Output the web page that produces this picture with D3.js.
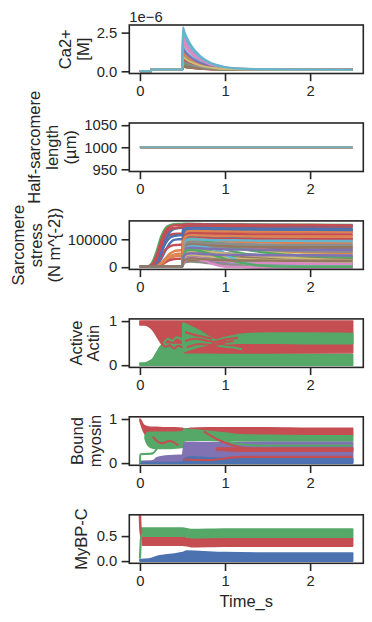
<!DOCTYPE html>
<html><head><meta charset="utf-8">
<script src="https://cdn.jsdelivr.net/npm/d3@7"></script>
<style>
body{margin:0;background:#fff}
svg{display:block}
text{font-family:"Liberation Sans",Arial,sans-serif;fill:#262626}
</style>
</head><body><svg id="c" width="372" height="622"></svg>
<script>
// ---------- palette (seaborn "deep") ----------
const palette = ["#4c72b0","#dd8452","#55a868","#c44e52","#8172b3","#937860","#da8bc3","#8c8c8c","#ccb974","#64b5cd"];
const xTickValues = [0, 1, 2];

// ---------- Panel 1: Ca2+ (units of 1e-6 M) ----------
const caTime = [0,0.13,0.135,0.5,0.505,0.525,0.555,0.605,0.655,0.705,0.805,0.905,1.0,1.2,1.5,2.5];
const caSeries = [
 [0,0,0.12,0.12,1.1,0.98,0.84,0.66,0.53,0.43,0.29,0.21,0.165,0.125,0.11,0.1],
 [0,0,0.12,0.12,0.9,0.80,0.69,0.55,0.44,0.36,0.25,0.19,0.15,0.12,0.11,0.1],
 [0,0,0.12,0.12,0.6,0.54,0.47,0.38,0.32,0.27,0.20,0.155,0.13,0.11,0.105,0.1],
 [0,0,0.12,0.12,0.7,0.63,0.54,0.44,0.36,0.30,0.21,0.17,0.14,0.115,0.105,0.1],
 [0,0,0.12,0.12,1.3,1.16,0.99,0.77,0.62,0.50,0.33,0.23,0.18,0.13,0.11,0.1],
 [0,0,0.12,0.12,0.45,0.41,0.36,0.30,0.25,0.22,0.17,0.14,0.12,0.11,0.105,0.1],
 [0,0,0.12,0.12,2.4,2.12,1.80,1.39,1.09,0.86,0.54,0.35,0.25,0.16,0.12,0.1],
 [0,0,0.12,0.12,0.5,0.45,0.40,0.32,0.27,0.23,0.18,0.145,0.125,0.11,0.105,0.1],
 [0,0,0.12,0.12,0.8,0.72,0.62,0.49,0.40,0.33,0.23,0.18,0.145,0.12,0.11,0.1],
 [0,0,0.12,0.12,2.85,2.52,2.135,1.64,1.28,1.01,0.62,0.40,0.28,0.17,0.13,0.1],
 [0,0,0.12,0.12,0.4,0.36,0.32,0.27,0.23,0.20,0.16,0.13,0.12,0.11,0.1,0.1],
 [0,0,0.12,0.12,0.35,0.32,0.285,0.24,0.21,0.18,0.15,0.13,0.115,0.105,0.1,0.1],
 [0,0,0.12,0.12,1.0,0.89,0.77,0.60,0.49,0.40,0.27,0.20,0.16,0.12,0.11,0.1],
 [0,0,0.12,0.12,0.3,0.28,0.25,0.21,0.19,0.17,0.14,0.12,0.115,0.105,0.1,0.1],
 [0,0,0.12,0.12,0.9,0.80,0.69,0.55,0.44,0.36,0.25,0.19,0.15,0.12,0.11,0.1],
 [0,0,0.12,0.12,0.3,0.28,0.25,0.21,0.19,0.17,0.14,0.12,0.115,0.105,0.1,0.1],
 [0,0,0.12,0.12,1.9,1.68,1.43,1.11,0.87,0.69,0.44,0.30,0.22,0.145,0.12,0.1],
 [0,0,0.12,0.12,0.6,0.54,0.47,0.38,0.32,0.27,0.20,0.155,0.13,0.11,0.105,0.1],
 [0,0,0.12,0.12,0.45,0.41,0.36,0.30,0.25,0.22,0.17,0.14,0.12,0.11,0.105,0.1],
 [0,0,0.12,0.12,1.6,1.42,1.21,0.94,0.75,0.60,0.39,0.27,0.20,0.14,0.115,0.1],
 [0,0,0.12,0.12,0.75,0.67,0.58,0.46,0.38,0.31,0.22,0.17,0.14,0.116,0.107,0.1],
 [0,0,0.12,0.12,1.2,1.07,0.91,0.72,0.57,0.46,0.31,0.22,0.17,0.13,0.11,0.1],
 [0,0,0.12,0.12,0.55,0.50,0.43,0.35,0.29,0.25,0.19,0.15,0.13,0.11,0.105,0.1],
 [0,0,0.12,0.12,0.85,0.76,0.66,0.52,0.42,0.35,0.24,0.18,0.15,0.12,0.11,0.1],
 [0,0,0.12,0.12,1.45,1.29,1.10,0.86,0.68,0.55,0.36,0.25,0.19,0.13,0.11,0.1],
 [0,0,0.12,0.12,0.38,0.35,0.31,0.26,0.22,0.19,0.15,0.13,0.12,0.107,0.103,0.1],
 [0,0,0.12,0.12,2.15,1.90,1.62,1.25,0.98,0.78,0.49,0.33,0.23,0.15,0.12,0.1],
 [0,0,0.12,0.12,0.65,0.58,0.51,0.41,0.34,0.28,0.20,0.16,0.14,0.114,0.106,0.1],
 [0,0,0.12,0.12,0.95,0.85,0.73,0.58,0.47,0.38,0.26,0.19,0.155,0.12,0.11,0.1],
 [0,0,0.12,0.12,2.6,2.30,1.95,1.50,1.18,0.93,0.58,0.38,0.26,0.16,0.125,0.1]
];
const caTicks = [0, 2.5];

// ---------- Panel 2: half-sarcomere length ----------
const hslTime = [0, 2.5];
const hslValues = [1000, 1000];
const hslTicks = [950, 1000, 1050];

// ---------- Panel 3: stress (values in units of 1000 N m^-2) ----------
const stressTime = [0,0.1,0.15,0.2,0.25,0.3,0.35,0.4,0.45,0.5,0.51,0.55,0.6,0.7,0.8,0.9,1.0,1.2,1.4,1.7,2.0,2.5];
const stressSeriesK = [
 [3,3,8,30,75,115,135,140,141,141,142,142,141,141,140,140,140,139,139,138,138,137],
 [3,3,3,3,3,3,3,3,3,3,100,118,120,119,118,118,117,116,116,115,115,114],
 [3,4,20,60,110,140,150,154,155,155,156,156,155,155,154,154,154,153,153,152,152,151],
 [3,3,12,45,95,130,145,150,151,151,152,152,151,151,150,150,150,149,149,149,148,148],
 [3,3,3,3,3,3,3,3,3,3,70,88,90,88,86,84,82,79,76,73,71,68],
 [3,3,3,3,3,3,3,3,3,3,80,98,100,97,93,89,85,78,72,67,63,58],
 [3,3,3,3,3,3,3,3,3,3,20,38,42,35,22,10,3,1,0,0,0,0],
 [3,3,3,3,3,3,3,3,3,3,40,58,60,56,50,45,40,33,28,24,21,18],
 [3,3,3,3,3,3,3,3,3,3,60,80,85,84,82,80,77,70,62,50,38,20],
 [3,3,3,3,3,3,3,3,3,3,60,78,80,78,74,65,50,22,8,3,2,2],
 [3,3,4,10,30,60,85,98,100,101,125,134,135,134,133,133,132,131,131,130,130,129],
 [3,3,3,6,15,32,48,57,60,61,95,108,110,109,108,107,107,106,106,105,105,104],
 [3,3,3,3,3,3,3,3,3,3,25,42,46,40,30,20,12,5,3,2,2,2],
 [3,3,6,25,65,100,115,119,120,121,140,145,146,146,146,145,145,145,145,144,144,144],
 [3,3,3,3,3,3,3,3,3,3,45,58,60,58,55,52,50,47,45,43,41,40],
 [3,3,3,3,3,3,3,3,3,3,55,73,75,74,73,72,72,71,71,70,70,70],
 [3,3,3,3,3,3,3,3,3,3,30,52,56,48,30,12,3,1,0,0,0,0],
 [3,3,3,3,3,3,3,3,3,3,20,28,30,27,24,21,19,16,14,12,11,10],
 [3,3,3,3,3,3,3,3,3,3,50,68,70,70,69,68,67,64,60,55,51,45],
 [3,3,3,3,3,3,3,3,3,3,75,93,95,94,93,93,92,92,91,91,90,90],
 [3,3,3,3,3,3,3,3,3,3,85,108,110,109,107,106,105,104,103,102,101,100],
 [3,3,3,4,8,18,30,38,40,41,80,93,95,92,88,84,80,72,65,58,54,50],
 [3,3,3,3,3,3,3,3,3,3,70,88,90,86,80,72,64,50,38,25,17,10],
 [3,3,4,15,40,62,74,79,80,81,115,124,125,125,125,125,125,125,125,125,125,125],
 [3,3,3,3,3,3,3,3,3,3,18,28,30,27,24,21,19,17,16,15,15,15],
 [3,3,3,3,3,3,3,3,3,3,38,48,50,48,45,42,40,37,35,33,31,30],
 [3,3,3,3,3,3,3,3,3,3,45,63,65,60,52,45,40,32,25,18,14,10],
 [3,3,3,3,3,3,3,3,3,3,12,19,20,18,15,12,10,8,7,6,5,5],
 [3,3,3,3,3,3,3,3,3,3,35,48,50,47,42,35,28,15,5,2,1,1],
 [3,3,3,3,3,3,3,3,3,3,65,83,85,84,83,82,82,81,81,80,80,80],
 [3,3,5,20,55,95,125,137,140,141,150,154,155,154,153,153,152,152,151,151,150,150],
 [3,3,3,3,3,3,3,3,3,3,110,128,130,130,129,129,129,128,128,128,128,127],
 [3,3,3,3,3,3,3,3,3,3,50,68,70,66,60,52,45,30,18,6,2,1],
 [3,3,3,5,10,18,25,29,30,31,85,103,105,104,103,102,102,101,101,100,100,100],
 [3,3,3,3,3,3,3,3,3,3,28,38,40,38,36,34,33,32,31,30,30,30],
 [3,3,3,3,3,3,3,3,3,3,15,23,25,26,27,28,29,31,32,33,34,35],
 [3,3,3,3,3,3,3,3,3,3,22,33,35,32,28,24,21,17,15,13,12,12],
 [3,3,3,3,3,3,3,3,3,3,60,78,80,78,75,72,70,66,62,59,57,55],
 [3,3,3,3,3,3,3,3,3,3,30,43,45,42,39,36,34,30,27,24,22,20],
 [3,3,3,3,3,3,3,3,3,3,55,72,75,74,70,60,45,18,6,3,2,2],
 [3,3,3,3,3,3,3,3,3,3,120,138,140,139,138,137,137,136,135,134,134,133],
 [3,3,3,5,12,25,38,45,48,49,90,100,102,100,98,96,94,91,89,87,86,85],
 [3,3,3,3,3,3,3,3,3,3,80,100,102,98,92,85,78,65,55,45,40,35],
 [3,3,3,3,3,3,3,3,3,3,100,118,120,120,119,119,118,118,117,117,117,117],
 [3,3,3,3,3,3,3,3,3,3,55,68,70,68,66,65,64,63,63,62,62,62],
 [3,3,3,3,3,3,3,3,3,3,65,83,85,83,80,78,76,74,73,72,72,72],
 [3,3,3,3,3,3,3,3,3,3,15,28,32,28,18,8,3,1,0,0,0,0],
 [3,3,3,3,3,3,3,3,3,3,70,88,90,88,86,85,84,82,81,80,80,80],
 [3,3,3,3,3,3,3,3,3,3,40,58,60,58,55,52,49,44,40,35,30,25],
 [3,3,3,3,3,3,3,3,3,3,80,98,100,99,98,97,97,96,95,95,94,94],
 [3,3,5,18,50,85,105,112,114,115,135,140,141,141,140,140,139,139,138,138,138,137],
 [3,3,3,3,3,3,3,3,3,3,95,112,115,114,113,112,112,111,110,110,110,110],
 [3,3,3,3,3,3,3,3,3,3,40,60,62,58,50,40,30,15,6,2,1,1],
 [3,3,8,35,80,118,135,140,142,143,150,153,154,153,153,152,152,152,151,151,151,150],
 [3,3,3,3,3,3,3,3,3,3,35,48,50,48,46,45,44,44,43,43,43,42],
 [3,3,3,3,3,3,3,3,3,3,20,30,32,30,28,26,25,24,24,23,23,23]
];
const stressTicks = [0, 100000];

// ---------- Panel 4: active actin, bands [time, low, high] ----------
const actinRed = [[0,0.91,1.0],[0.05,0.91,1.0],[0.1,0.88,1.0],[0.15,0.8,1.0],[0.2,0.65,1.0],[0.25,0.5,1.0],[0.3,0.42,1.0],[0.4,0.4,1.0],[0.5,0.4,1.0],[0.51,0.27,1.0],[1.0,0.27,1.0],[2.5,0.28,1.0]];
const actinGreenLow = [[0,0,0.05],[0.05,0,0.05],[0.1,0,0.08],[0.15,0,0.14],[0.2,0,0.3],[0.25,0,0.45],[0.3,0,0.48],[0.4,0,0.47],[0.5,0,0.46],[0.51,0,0.25],[1.0,0,0.24],[2.5,0,0.24]];
const actinGreenWedge = [[0.51,0.3,0.96],[0.6,0.36,0.88],[0.7,0.42,0.78],[0.8,0.46,0.66],[0.9,0.49,0.56],[0.95,0.5,0.52]];
const actinGreenMid = [[0.88,0.5,0.52],[0.95,0.49,0.56],[1.05,0.49,0.63],[1.15,0.5,0.69],[1.3,0.5,0.72],[1.6,0.5,0.73],[2.0,0.49,0.73],[2.5,0.49,0.72]];
const actinGreenStreaks = [
 [[0.28,0.5],[0.33,0.6],[0.38,0.55],[0.43,0.63],[0.5,0.58]],
 [[0.9,0.45],[1.0,0.42],[1.1,0.4],[1.2,0.36]],
 [[0.9,0.56],[1.0,0.62],[1.1,0.66]],
 [[0.505,0.05],[0.505,0.95]]
];
const actinRedStreaks = [
 [[0.25,0.5],[0.3,0.42],[0.35,0.45],[0.4,0.38],[0.45,0.44],[0.5,0.4]],
 [[0.53,0.55],[0.65,0.6],[0.8,0.55],[0.95,0.52],[1.1,0.55]],
 [[0.53,0.75],[0.7,0.66],[0.85,0.6]],
 [[0.55,0.4],[0.7,0.48],[0.85,0.46],[1.0,0.5]],
 [[0.85,0.5],[1.0,0.58],[1.15,0.62]]
];
const fracTicks = [0, 1];

// ---------- Panel 5: bound myosin ----------
const myoRed = [[0,0.96,1.0],[0.01,0.9,0.98],[0.03,0.78,0.9],[0.06,0.66,0.84],[0.1,0.6,0.82],[0.2,0.6,0.81],[0.3,0.6,0.8],[0.4,0.6,0.8],[0.5,0.6,0.79],[0.52,0.66,0.77],[0.6,0.66,0.79],[0.8,0.64,0.8],[1.0,0.62,0.8],[1.5,0.62,0.8],[2.0,0.62,0.79],[2.5,0.62,0.79]];
const myoGreen = [[0.06,0.56,0.62],[0.08,0.45,0.68],[0.12,0.36,0.7],[0.2,0.33,0.7],[0.3,0.33,0.7],[0.4,0.34,0.7],[0.5,0.36,0.71],[0.52,0.5,0.77],[0.6,0.52,0.76],[0.8,0.52,0.72],[1.0,0.5,0.68],[1.2,0.5,0.64],[1.5,0.5,0.63],[2.0,0.5,0.62],[2.5,0.5,0.62]];
const myoPurple = [[0,0,0.04],[0.15,0,0.05],[0.2,0,0.12],[0.3,0,0.16],[0.5,0,0.18],[0.52,0,0.46],[0.6,0,0.47],[1.0,0,0.46],[1.5,0,0.47],[2.5,0,0.47]];
const myoRedMid = [[0.9,0.3,0.34],[1.2,0.27,0.34],[1.5,0.27,0.34],[2.5,0.27,0.34]];
const myoBlue = [[0,0,0.01],[0.5,0,0.02],[0.52,0,0.1],[0.6,0,0.14],[0.8,0,0.12],[1.0,0,0.11],[1.5,0,0.1],[2.5,0,0.1]];
const myoGreenLines = [
 [[0,0.0],[0.003,0.2],[0.1,0.21],[0.15,0.22],[0.2,0.33]],
 [[0.9,0.62],[1.1,0.45],[1.4,0.4],[2.5,0.4]]
];
const myoRedLines = [
 [[0.75,0.72],[0.95,0.5],[1.2,0.35],[1.5,0.3]],
 [[0.52,0.08],[0.8,0.07],[1.2,0.14],[2.5,0.14]],
 [[0.15,0.6],[0.25,0.45],[0.35,0.5],[0.45,0.4]]
];

// ---------- Panel 6: MyBP-C ----------
const mybpBlue = [[0,0,0.03],[0.1,0,0.04],[0.15,0,0.06],[0.2,0,0.09],[0.3,0,0.12],[0.4,0,0.14],[0.5,0,0.17],[0.55,0,0.2],[0.7,0,0.19],[1.0,0,0.17],[1.5,0,0.16],[2.5,0,0.16]];
const mybpGreen = [[0.02,0.5,0.66],[0.5,0.5,0.66],[0.6,0.47,0.63],[1.0,0.48,0.64],[2.5,0.48,0.64]];
const mybpRed = [[0.03,0.32,0.47],[0.5,0.32,0.47],[0.6,0.29,0.45],[1.0,0.3,0.46],[2.5,0.3,0.46]];
const mybpRedStart = [[0,0.92],[0.004,0.72],[0.012,0.55],[0.03,0.42]];
const mybpGreenStart = [[0,0.05],[0.004,0.2],[0.012,0.45],[0.03,0.56]];
const mybpTicks = [0, 0.5];

// ---------- layout ----------
const L = 129.3, R = 363.3, PH = 48.5;
const tops = [25, 123, 220.9, 318.9, 416.8, 514.8];
const INK = "#262626";
const TICK_FS = 14.8, LABEL_FS = 16.5, LINE_SP = 17.8;
const LW = 2.1;

const svg = d3.select("#c");
const x = d3.scaleLinear().domain([-0.125, 2.625]).range([L, R]);

function makePanel(k, dom) {
  const y = d3.scaleLinear().domain(dom).range([tops[k] + PH, tops[k]]);
  const id = "clip" + k;
  svg.append("clipPath").attr("id", id).append("rect")
    .attr("x", L).attr("y", tops[k]).attr("width", R - L).attr("height", PH);
  const plot = svg.append("g").attr("clip-path", `url(#${id})`);
  return { k, y, plot };
}

function finishPanel(p, yTicks, yFmt, labelLines, lastBaseline) {
  const { k, y } = p;
  const top = tops[k];
  svg.append("rect").attr("x", L).attr("y", top).attr("width", R - L).attr("height", PH)
    .attr("fill", "none").attr("stroke", INK).attr("stroke-width", 1.6);
  const gx = svg.append("g").attr("transform", `translate(0,${top + PH})`)
    .call(d3.axisBottom(x).tickValues(xTickValues).tickSize(7.7).tickPadding(4.4).tickFormat(d3.format("d")));
  const gy = svg.append("g").attr("transform", `translate(${L},0)`)
    .call(d3.axisLeft(y).tickValues(yTicks).tickSize(7.7).tickPadding(4.4).tickFormat(yFmt));
  [gx, gy].forEach(g => {
    g.select(".domain").remove();
    g.selectAll(".tick line").attr("stroke", INK).attr("stroke-width", 1.6);
    g.selectAll(".tick text").attr("fill", INK).style("font-size", TICK_FS + "px")
      .style("font-family", '"Liberation Sans",Arial,sans-serif');
  });
  const cy = top + PH / 2;
  const n = labelLines.length;
  labelLines.forEach((t, i) => {
    const bx = lastBaseline - (n - 1 - i) * LINE_SP;
    svg.append("text").attr("transform", `translate(${bx},${cy}) rotate(-90)`)
      .attr("text-anchor", "middle").style("font-size", LABEL_FS + "px").text(t);
  });
}

function drawLines(p, time, series, colorFn, width) {
  const line = d3.line().x((d, i) => x(time[i])).y(d => p.y(d)).curve(d3.curveMonotoneX);
  series.forEach((s, i) => {
    p.plot.append("path").attr("d", line(s)).attr("fill", "none")
      .attr("stroke", colorFn(i)).attr("stroke-width", width).attr("stroke-linejoin", "round");
  });
}
function drawBand(p, band, color) {
  const area = d3.area().x(d => x(d[0])).y0(d => p.y(d[1])).y1(d => p.y(d[2])).curve(d3.curveMonotoneX);
  p.plot.append("path").attr("d", area(band)).attr("fill", color)
    .attr("stroke", color).attr("stroke-width", 1.6).attr("stroke-linejoin", "round");
}
function drawPts(p, pts, color, width) {
  const line = d3.line().x(d => x(d[0])).y(d => p.y(d[1])).curve(d3.curveMonotoneX);
  p.plot.append("path").attr("d", line(pts)).attr("fill", "none")
    .attr("stroke", color).attr("stroke-width", width).attr("stroke-linejoin", "round");
}

const RED = palette[3], GREEN = palette[2], BLUE = palette[0], PURPLE = palette[4];

// Panel 1
const p1 = makePanel(0, [-0.1425, 2.9925]);
drawLines(p1, caTime, caSeries, i => palette[i % 10], LW);
finishPanel(p1, caTicks, d3.format(".1f"), ["Ca2+", "[M]"], 89);
svg.append("text").attr("x", L).attr("y", 21.5).style("font-size", TICK_FS + "px").text("1e\u22126");

// Panel 2
const p2 = makePanel(1, [945, 1055]);
palette.forEach((c, i) => {
  drawLines(p2, hslTime, [hslValues], () => (i === 9 ? "#76adb8" : c), 2.2);
});
finishPanel(p2, hslTicks, d3.format("d"), ["Half-sarcomere", "length", "(\u00b5m)"], 76);

// Panel 3
const p3 = makePanel(2, [-7.9, 165.9]);
drawLines(p3, stressTime, stressSeriesK, i => palette[i % 10], 2.4);
finishPanel(p3, stressTicks.map(v => v / 1000), d => d3.format("d")(d * 1000), ["Sarcomere", "stress", "(N m^{-2})"], 60);

// Panel 4
const p4 = makePanel(3, [-0.05, 1.05]);
drawBand(p4, actinRed, RED);
drawBand(p4, actinGreenLow, GREEN);
drawBand(p4, actinGreenWedge, GREEN);
drawBand(p4, actinGreenMid, GREEN);
actinGreenStreaks.forEach(s => drawPts(p4, s, GREEN, LW));
actinRedStreaks.forEach(s => drawPts(p4, s, RED, LW));
finishPanel(p4, fracTicks, d3.format("d"), ["Active", "Actin"], 99.3);

// Panel 5
const p5 = makePanel(4, [-0.05, 1.05]);
drawBand(p5, myoRed, RED);
drawBand(p5, myoGreen, GREEN);
drawBand(p5, myoPurple, PURPLE);
drawBand(p5, myoRedMid, RED);
drawBand(p5, myoBlue, BLUE);
myoGreenLines.forEach(s => drawPts(p5, s, GREEN, LW));
myoRedLines.forEach(s => drawPts(p5, s, RED, LW));
finishPanel(p5, fracTicks, d3.format("d"), ["Bound", "myosin"], 101);

// Panel 6
const p6 = makePanel(5, [-0.044, 0.926]);
drawBand(p6, mybpBlue, BLUE);
drawBand(p6, mybpRed, RED);
drawBand(p6, mybpGreen, GREEN);
drawPts(p6, mybpRedStart, RED, 2.6);
drawPts(p6, mybpGreenStart, GREEN, 2.2);
finishPanel(p6, mybpTicks, d3.format(".1f"), ["MyBP-C"], 86.5);

// x label
svg.append("text").attr("x", (L + R) / 2).attr("y", 606.5).attr("text-anchor", "middle")
  .style("font-size", LABEL_FS + "px").text("Time_s");
</script>
</body></html>
